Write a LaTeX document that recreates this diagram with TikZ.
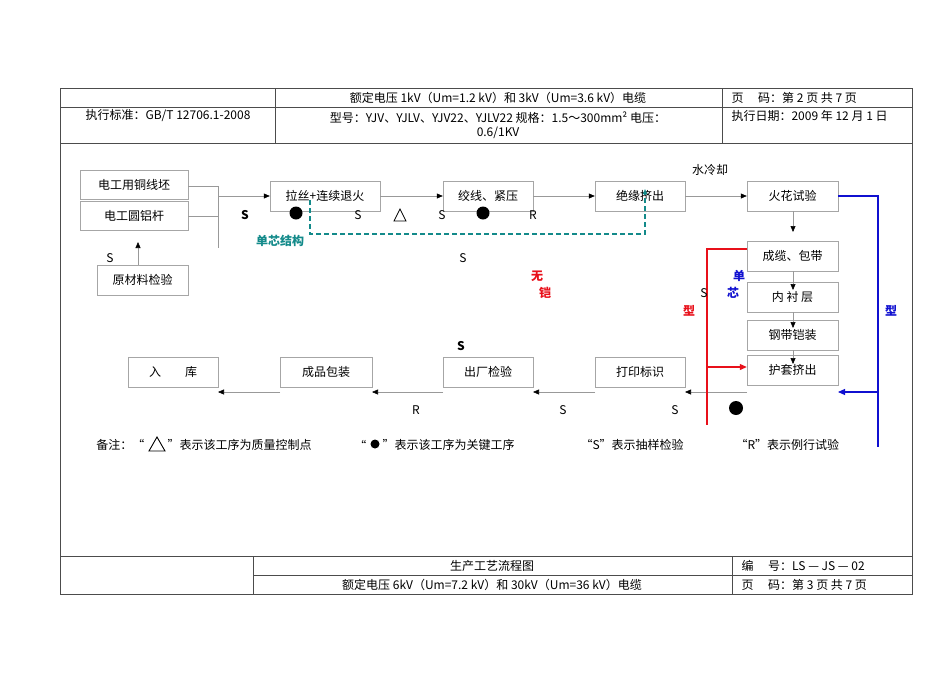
\documentclass[tikz,border=0pt]{standalone}
\usepackage{fontspec}
\setmainfont{Noto Sans CJK SC}
\usetikzlibrary{arrows.meta}
\definecolor{teal2}{HTML}{138A8A}
\definecolor{myred}{HTML}{E8101A}
\definecolor{myblue}{HTML}{1010D0}
\begin{document}
\begin{tikzpicture}[x=1pt,y=-1pt,font=\fontsize{12}{14}\selectfont,
 bx/.style={draw=gray!70,fill=white,anchor=center,inner sep=0pt},
 ln/.style={draw=gray!80,line width=0.6pt},
 ar/.style={ln,-{Triangle[length=6pt,width=5pt,color=black]}},
 frame/.style={draw=gray!60!black,line width=0.6pt}]
\useasboundingbox (0,0) rectangle (950,672);
% header
\draw[frame] (60,88) rectangle (912,594);
\draw[frame] (60,107) -- (912,107) (60,143) -- (912,143);
\draw[frame] (275,88) -- (275,143) (722,88) -- (722,143);
\node at (498,98) {额定电压 1kV（Um=1.2 kV）和 3kV（Um=3.6 kV）电缆};
\node[anchor=west] at (728,98) {页\quad\ 码：第 2 页 共 7 页};
\node at (168,116) {执行标准：GB/T 12706.1-2008};
\node[align=center] at (498,125) {型号：YJV、YJLV、YJV22、YJLV22 规格：1.5～300mm² 电压：\\0.6/1KV};
\node[anchor=west] at (728,116) {执行日期：2009 年 12 月 1 日};
% footer
\draw[frame] (60,556) -- (912,556) (253,575) -- (912,575);
\draw[frame] (253,556) -- (253,594) (732,556) -- (732,594);
\node at (492,566) {生产工艺流程图};
\node at (492,585) {额定电压 6kV（Um=7.2 kV）和 30kV（Um=36 kV）电缆};
\node[anchor=west] at (738,566) {编\quad\ 号：LS — JS — 02};
\node[anchor=west] at (738,585) {页\quad\ 码：第 3 页 共 7 页};
% boxes
\node[bx,minimum width=108,minimum height=29] (cu) at (134,184.5) {电工用铜线坯};
\node[bx,minimum width=108,minimum height=29] (al) at (134,215.5) {电工圆铝杆};
\node[bx,minimum width=91,minimum height=30] (raw) at (142.5,280) {原材料检验};
\node[bx,minimum width=110,minimum height=30] (ls) at (325,196) {拉丝+连续退火};
\node[bx,minimum width=90,minimum height=30] (jx) at (488,196) {绞线、紧压};
\node[bx,minimum width=90,minimum height=30] (jy) at (640,196) {绝缘挤出};
\node[bx,minimum width=91,minimum height=30] (hh) at (792.5,196) {火花试验};
\node[bx,minimum width=91,minimum height=30] (cl) at (792.5,256) {成缆、包带};
\node[bx,minimum width=91,minimum height=30] (nc) at (792.5,297) {内\ 衬\ 层};
\node[bx,minimum width=91,minimum height=30] (gd) at (792.5,335) {钢带铠装};
\node[bx,minimum width=91,minimum height=30] (ht) at (792.5,370) {护套挤出};
\node[bx,minimum width=90,minimum height=30] (dy) at (640,372) {打印标识};
\node[bx,minimum width=90,minimum height=30] (cc) at (488,372) {出厂检验};
\node[bx,minimum width=92,minimum height=30] (bz) at (326,372) {成品包装};
\node[bx,minimum width=90,minimum height=30] (rk) at (173,372) {入\qquad 库};
% input lines
\coordinate (j1) at (218,186);
\coordinate (j2) at (218,216);
\coordinate (j3) at (218,248);
\coordinate (j4) at (218,196);
\draw[ln] (cu.east |- j1) -- (j1) -- (j3);
\draw[ln] (al.east |- j2) -- (j2);
\draw[ar] (j4) -- (ls.west);
\coordinate (rt) at (138,242);
\draw[ar] (raw.north -| rt) -- (rt);
\draw[ar] (ls.east) -- (jx.west);
\draw[ar] (jx.east) -- (jy.west);
\draw[ar] (jy.east) -- (hh.west);
\coordinate (h1) at (793,232);
\draw[ar] (hh.south -| h1) -- (h1);
\coordinate (a1) at (793,290);\coordinate (a2) at (793,328);\coordinate (a3) at (793,364);
\draw[ar] (cl.south -| a1) -- (a1);
\draw[ar] (nc.south -| a2) -- (a2);
\draw[ar] (gd.south -| a3) -- (a3);
% bottom chain
\coordinate (b0) at (747,392);\coordinate (b1) at (685,392);\coordinate (b2) at (595,392);
\coordinate (b3) at (533,392);\coordinate (b4) at (443,392);\coordinate (b5) at (372,392);
\coordinate (b6) at (280,392);\coordinate (b7) at (218,392);
\draw[ar] (b0) -- (b1);\draw[ar] (b2) -- (b3);\draw[ar] (b4) -- (b5);\draw[ar] (b6) -- (b7);
% red
\coordinate (r1) at (707,249);\coordinate (r2) at (707,425);\coordinate (r3) at (707,367);
\draw[draw=myred,line width=1.1pt] (cl.west |- r1) -- (r1) -- (r2);
\draw[draw=myred,line width=1.1pt,-{Triangle[length=7pt,width=6pt,color=myred]}] (r3) -- (ht.west |- r3);
% blue
\coordinate (u1) at (878,196);\coordinate (u2) at (878,447);\coordinate (u3) at (878,392);\coordinate (u4) at (838,392);
\draw[draw=myblue,line width=1.1pt] (hh.east) -- (u1) -- (u2);
\draw[draw=myblue,line width=1.1pt,-{Triangle[length=7pt,width=6pt,color=myblue]}] (u3) -- (u4);
% teal dashed
\coordinate (t1) at (310,200);\coordinate (t2) at (310,234);\coordinate (t3) at (645,234);\coordinate (t4) at (645,189);
\draw[teal2,line width=1.1pt,dash pattern=on 5pt off 3pt,-{Triangle[length=5pt,width=4pt]}] (t1) -- (t2) -- (t3) -- (t4);
% labels
\node[font=\fontsize{12}{14}\selectfont\bfseries] at (245,215) {S};
\fill (296,213) circle (6.5);
\node at (358,215) {S};
\draw[line width=0.8pt] (394,221) -- (400,209) -- (406,221) -- cycle;
\node at (442,215) {S};
\fill (483,213) circle (6.5);
\node at (533,215) {R};
\node[teal2,font=\fontsize{12}{14}\selectfont\bfseries] at (280,241) {单芯结构};
\node at (463,258) {S};
\node[myred,font=\fontsize{12}{14}\selectfont\bfseries] at (537,276) {无};
\node[myred,font=\fontsize{12}{14}\selectfont\bfseries] at (545,293) {铠};
\node[myred,font=\fontsize{12}{14}\selectfont\bfseries] at (689,311) {型};
\node at (704,293) {S};
\node[myblue,font=\fontsize{12}{14}\selectfont\bfseries] at (739,276) {单};
\node[myblue,font=\fontsize{12}{14}\selectfont\bfseries] at (733,293) {芯};
\node[myblue,font=\fontsize{12}{14}\selectfont\bfseries] at (891,311) {型};
\node at (710,170) {水冷却};
\node at (110,258) {S};
\node[font=\fontsize{12}{14}\selectfont\bfseries] at (461,346) {S};
\node at (416,410) {R};
\node at (563,410) {S};
\node at (675,410) {S};
\fill (736,408) circle (7);
\node[anchor=east] at (148,445) {备注：“};
\draw[line width=0.9pt] (149,451) -- (157,437) -- (165,451) -- cycle;
\node[anchor=west] at (164,445) {”表示该工序为质量控制点};
\node[anchor=east] at (370,445) {“};
\fill (375,444) circle (4.5);
\node[anchor=west] at (379,445) {”表示该工序为关键工序};
\node[anchor=west] at (577,445) {“S”表示抽样检验};
\node[anchor=west] at (732,445) {“R”表示例行试验};
\end{tikzpicture}
\end{document}
